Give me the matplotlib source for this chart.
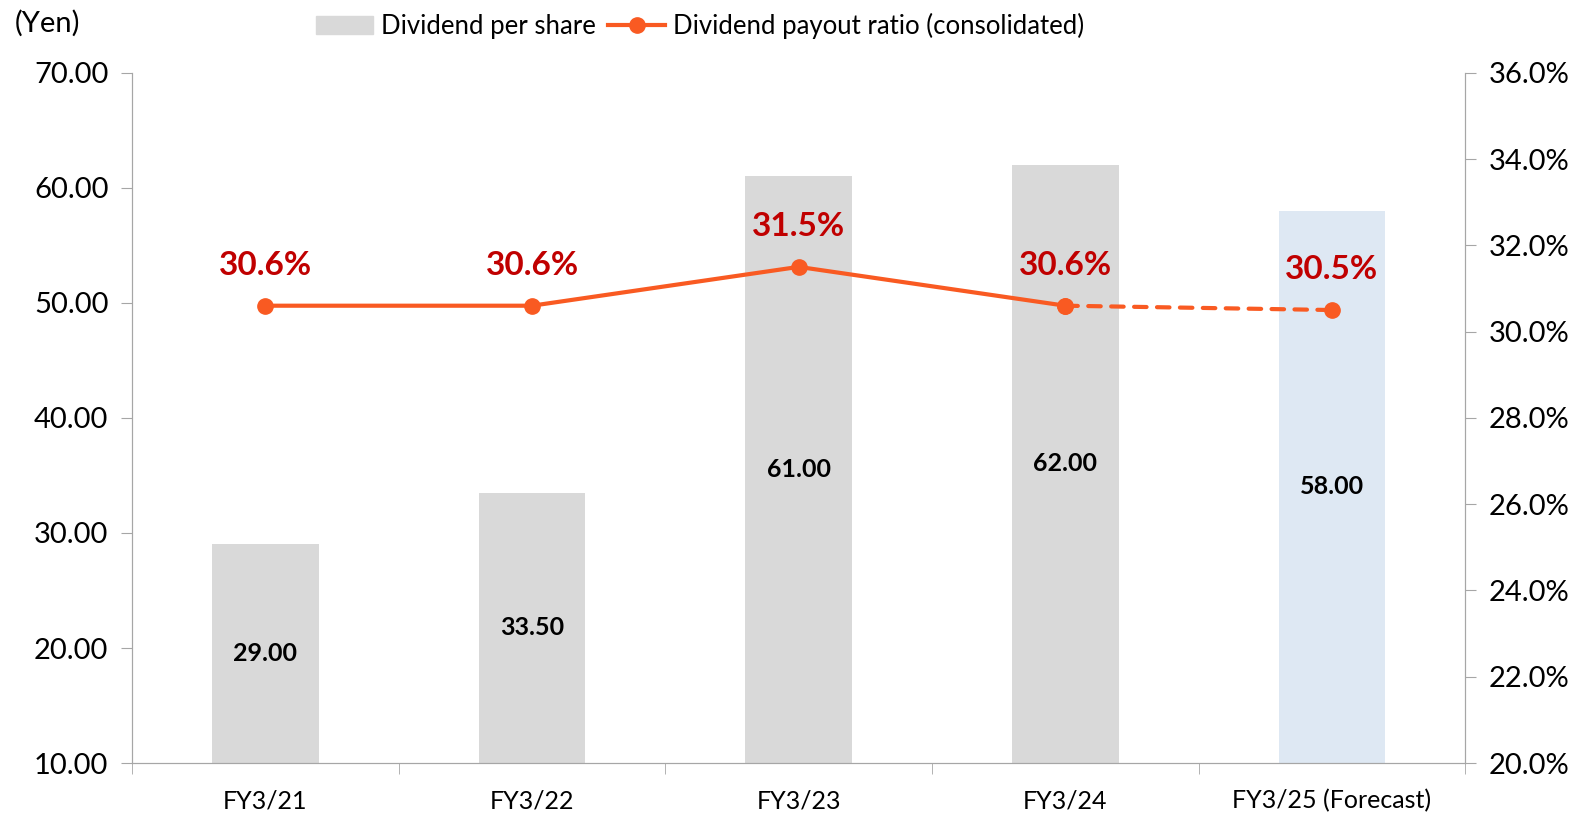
import matplotlib.pyplot as plt
import numpy as np

plt.rcParams['font.family'] = ['Lato', 'DejaVu Sans']

years = ['FY3/21', 'FY3/22', 'FY3/23', 'FY3/24', 'FY3/25 (Forecast)']
dividend = [29.00, 33.50, 61.00, 62.00, 58.00]
payout = [30.6, 30.6, 31.5, 30.6, 30.5]

grey = '#D9D9D9'
blue = '#DEE8F3'
orange = '#F95A22'
red = '#C00000'
spine = '#A6A6A6'

fig = plt.figure(figsize=(15.91, 8.17), dpi=100)
ax = fig.add_axes([0.083, 0.066, 0.838, 0.845])
x = np.arange(len(years))
colors = [grey] * 4 + [blue]
bars = ax.bar(x, [d - 10 for d in dividend], bottom=10, width=0.4, color=colors, zorder=1)
for xi, d in zip(x, dividend):
    ax.text(xi, (10 + d) / 2, f'{d:.2f}', ha='center', va='center',
            fontsize=18, fontweight='bold', color='black')

ax.set_xlim(-0.5, 4.5)
ax.set_ylim(10, 70)
ax.set_yticks(np.arange(10, 71, 10))
ax.set_yticklabels([f'{v:.2f}' for v in np.arange(10, 71, 10)])
ax.set_xticks(x)
ax.set_xticklabels(years)
ax.set_xticks(np.arange(-0.5, 5, 1), minor=True)
ax.tick_params(axis='x', which='major', length=0, labelsize=18, pad=19)
ax.tick_params(axis='x', which='minor', length=8, color=spine, direction='out')
ax.tick_params(axis='y', labelsize=21, length=8, color=spine, pad=9)
ax.spines['top'].set_visible(False)
for s in ['left', 'bottom', 'right']:
    ax.spines[s].set_color(spine)

ax2 = ax.twinx()
ax2.set_ylim(20, 36)
ax2.set_yticks(np.arange(20, 37, 2))
ax2.set_yticklabels([f'{v:.1f}%' for v in np.arange(20, 37, 2)])
ax2.tick_params(axis='y', labelsize=21, length=8, color=spine, pad=9)
ax2.spines['top'].set_visible(False)
for s in ['left', 'bottom', 'right']:
    ax2.spines[s].set_color(spine)

ax2.plot(x[:4], payout[:4], color=orange, lw=3, marker='o', ms=11, zorder=3)
ax2.plot(x[3:], payout[3:], color=orange, lw=3, ls=(0, (3, 2.5)), dash_capstyle='round',
         marker='o', ms=11, zorder=3)
for xi, p in zip(x, payout):
    ax2.text(xi, p + 0.6, f'{p:.1f}%', ha='center', va='bottom',
             fontsize=24, fontweight='bold', color=red)

handles = [plt.Rectangle((0, 0), 1, 1, color=grey),
           plt.Line2D([], [], color=orange, lw=3, marker='o', ms=11)]
fig.legend(handles, ['Dividend per share', 'Dividend payout ratio (consolidated)'],
           loc='center', bbox_to_anchor=(0.44, 0.968), ncol=2, frameon=False,
           fontsize=18.5, handlelength=2.2, handletextpad=0.3, columnspacing=0.5)
fig.text(0.009, 0.972, '(Yen)', fontsize=21, va='center', ha='left')

fig.savefig('out.png', dpi=100)
